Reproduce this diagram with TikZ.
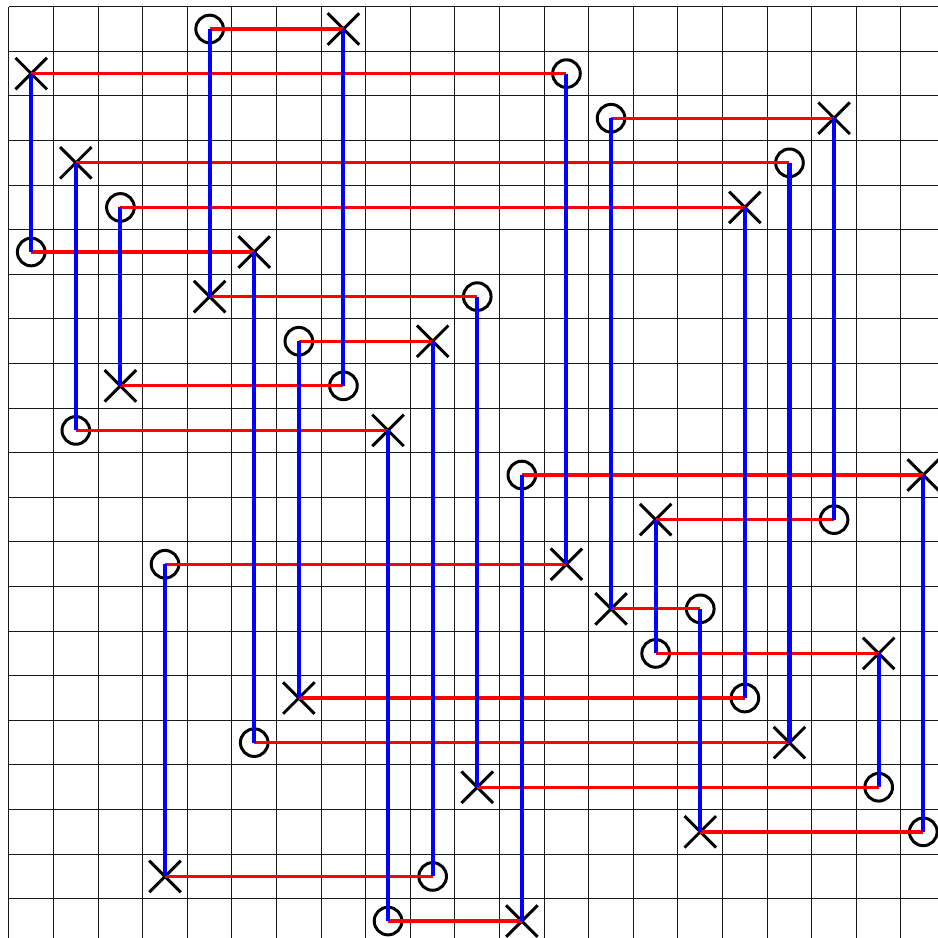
\documentclass[tikz,border=0pt]{standalone}
\usetikzlibrary{shapes.misc}
\begin{document}
\begin{tikzpicture}[x=1cm,y=1cm,
  gridline/.style={draw=black!90, line width=0.65pt},
  omark/.style={circle, draw=black, line width=1.9pt, minimum size=0.62cm, inner sep=0pt},
  xmark/.style={cross out, draw=black, line width=1.9pt, minimum size=0.64cm, inner sep=0pt},
  hseg/.style={draw=red, line width=2.1pt},
  vseg/.style={draw=blue, line width=2.6pt}]
\useasboundingbox (-0.2,0.15) rectangle (20.83,-20.88);
\clip (-0.2,0.15) rectangle (20.83,-20.88);
\draw[gridline] (0,-21) grid (21,0);
\foreach \j/\oc/\xc in {0/4/7, 1/12/0, 2/13/18, 3/17/1, 4/2/16, 5/0/5, 6/10/4,
  7/6/9, 8/7/2, 9/1/8, 10/11/20, 11/18/14, 12/3/12, 13/15/13, 14/14/19,
  15/16/6, 16/5/17, 17/19/10, 18/20/15, 19/9/3, 20/8/11} {
  \node[omark] (o\j) at ({\oc+0.5},{-\j-0.5}) {};
  \node[xmark] (x\j) at ({\xc+0.5},{-\j-0.5}) {};
}
\foreach \j in {0,...,20} \draw[hseg] (o\j.center) -- (x\j.center);
\foreach \a/\b in {5/1, 9/3, 4/8, 12/19, 0/6, 16/5, 7/15, 8/0, 20/9, 19/7,
  6/17, 10/20, 1/12, 2/13, 14/11, 13/18, 15/4, 3/16, 11/2, 17/14, 18/10}
  \draw[vseg] (o\a.center) -- (x\b.center);
\end{tikzpicture}
\end{document}
